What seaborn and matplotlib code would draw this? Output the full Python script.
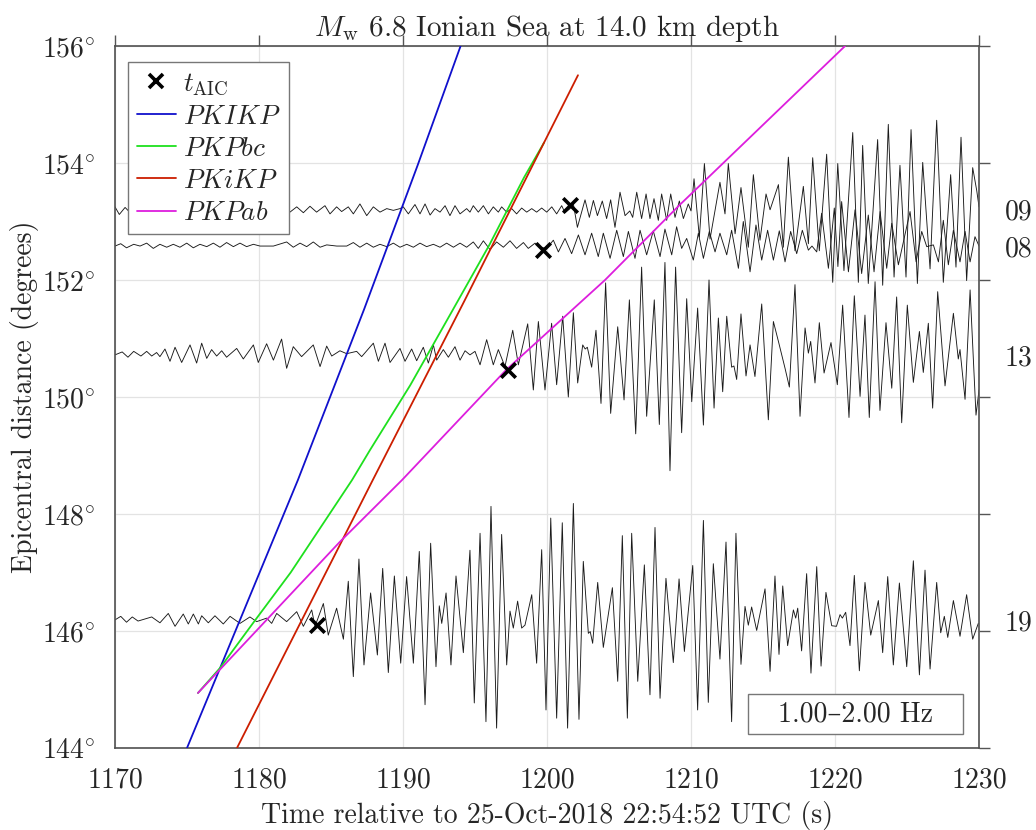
import numpy as np
import pandas as pd
import matplotlib
matplotlib.use("Agg")
import matplotlib.pyplot as plt
from matplotlib.lines import Line2D
from matplotlib.patches import Rectangle
import matplotlib.transforms as mtransforms
import seaborn as sns

sns.set_theme(style="white")
plt.rcParams["font.family"] = ["cmr10", "DejaVu Serif"]
plt.rcParams["mathtext.fontset"] = "cm"
plt.rcParams["axes.formatter.use_mathtext"] = True
plt.rcParams["axes.unicode_minus"] = False

# ---------------- data ----------------
stations = ["09", "08", "13", "19"]
baselines = [153.20, 152.58, 150.72, 146.19]
aic_time = [1201.6, 1199.70, 1197.3, 1184.0]
aic_dist = [153.28, 152.52, 150.46, 146.10]

# phase travel-time curves (time s, distance deg)
pkikp_t = [1175.0, 1182.7, 1187.3, 1191.0, 1194.0]
pkikp_d = [144.0, 148.58, 151.5, 153.95, 156.0]
pkpbc_t = [1175.76, 1177.3, 1179.75, 1182.2, 1186.46, 1187.7, 1190.5, 1193.3, 1196.0, 1198.4, 1199.8]
pkpbc_d = [144.94, 145.37, 146.19, 147.0, 148.58, 149.09, 150.2, 151.42, 152.6, 153.75, 154.35]
pkikp2_t = [1178.47, 1187.9, 1194.3, 1202.15]
pkikp2_d = [144.0, 148.58, 151.66, 155.5]
pkpab_t = [1175.76, 1185.6, 1189.93, 1197.15, 1204.03, 1209.2, 1220.7]
pkpab_d = [144.94, 147.52, 148.58, 150.46, 152.0, 153.28, 156.0]

# seismogram extrema: (time s, amplitude deg relative to trace baseline)
trace09 = [
    (1170.0, 0.05), (1170.3, -0.08), (1170.7, 0.04), (1171.1, -0.06), (1171.6, 0.05),
    (1172.1, -0.05), (1172.6, 0.06), (1173.1, -0.04), (1173.6, 0.05), (1174.1, -0.06),
    (1174.6, 0.04), (1175.1, -0.05), (1175.6, 0.06), (1176.1, -0.04), (1176.6, 0.05),
    (1177.1, -0.06), (1177.6, 0.04), (1178.1, -0.05), (1178.6, 0.05), (1179.1, -0.04),
    (1179.6, 0.06), (1180.1, -0.05), (1180.6, 0.04), (1181.1, -0.05),
    (1181.69, 0.05), (1182.15, -0.04), (1182.62, 0.05), (1183.08, -0.05), (1183.54, 0.06),
    (1184.00, -0.04), (1184.58, 0.07), (1184.93, -0.07), (1185.39, 0.05), (1185.74, -0.03),
    (1186.20, 0.05), (1186.55, -0.07), (1187.01, 0.10), (1187.48, -0.10), (1187.94, 0.05),
    (1188.40, -0.04), (1188.87, 0.02), (1189.33, -0.01), (1189.79, 0.02),
    (1190.02, 0.05), (1190.37, -0.07), (1190.83, 0.09), (1191.18, -0.07), (1191.53, 0.10),
    (1191.88, -0.09), (1192.22, 0.02), (1192.57, -0.04), (1192.92, 0.07), (1193.26, -0.10),
    (1193.61, 0.07), (1193.96, -0.07), (1194.42, 0.02), (1194.65, -0.04), (1194.88, 0.07),
    (1195.23, -0.04), (1195.58, 0.07), (1195.93, -0.07), (1196.27, 0.05), (1196.62, -0.04),
    (1196.85, 0.05), (1197.20, -0.04), (1197.55, 0.02), (1197.89, -0.07), (1198.24, 0.03),
    (1198.59, -0.04), (1198.94, 0.02), (1199.28, -0.04), (1199.63, 0.03), (1199.98, -0.04),
    (1200.33, 0.05), (1200.67, -0.07), (1201.02, 0.07), (1201.25, -0.05), (1201.60, 0.02),
    (1201.83, 0.10), (1202.11, -0.30), (1202.64, 0.17), (1202.94, -0.13), (1203.22, 0.16),
    (1203.50, -0.10), (1203.84, 0.15), (1204.14, -0.15), (1204.42, 0.17), (1204.72, -0.30),
    (1205.07, 0.30), (1205.42, -0.10), (1205.75, -0.02), (1205.95, -0.13), (1206.23, 0.30),
    (1206.57, -0.15), (1206.88, 0.27), (1207.15, -0.15), (1207.43, 0.19), (1207.73, -0.18),
    (1207.96, 0.27), (1208.31, -0.18), (1208.59, 0.27), (1208.89, -0.13), (1209.19, 0.15),
    (1209.47, -0.15), (1209.81, 0.10), (1210.00, -0.02), (1210.21, 0.53), (1210.58, -0.47),
    (1210.93, 0.79), (1211.32, -0.50), (1212.01, 0.47), (1212.36, -0.07), (1212.59, 0.79),
    (1213.06, -0.41), (1213.47, 0.38), (1213.98, -0.64), (1214.33, 0.60), (1214.79, -0.52),
    (1215.21, 0.27), (1215.49, 0.00), (1216.07, 0.43), (1216.41, -0.64), (1216.76, 0.90),
    (1217.22, -0.70), (1217.80, 0.40), (1218.15, -0.58), (1218.45, 0.89), (1218.91, -0.70),
    (1219.42, 0.95), (1219.84, -1.24), (1220.19, 0.79), (1220.62, -1.04), (1221.23, 1.32),
    (1221.62, -1.24), (1221.92, 1.10), (1222.31, -1.26), (1222.96, 1.20), (1223.31, -1.29),
    (1223.70, 1.46), (1224.10, -1.15), (1224.51, 0.76), (1224.93, -1.15), (1225.28, 1.37),
    (1225.72, -1.26), (1226.09, 0.81), (1226.60, -1.01), (1227.06, 1.53), (1227.52, -1.24),
    (1228.03, 0.60), (1228.40, -0.98), (1228.75, 1.24), (1229.14, -1.21), (1229.56, 0.72),
    (1229.84, 0.33), (1230.0, 0.05)]

trace08 = [
    (1170.0, 0.00), (1170.4, 0.04), (1170.8, -0.03), (1171.3, 0.03), (1171.74, 0.00),
    (1172.20, 0.05), (1172.66, -0.04), (1173.12, 0.03), (1173.59, -0.02), (1174.05, 0.03),
    (1174.51, -0.02), (1174.98, 0.05), (1175.44, -0.03), (1175.90, 0.03), (1176.37, -0.01),
    (1176.83, 0.05), (1177.29, -0.02), (1177.75, 0.06), (1178.22, -0.01), (1178.68, 0.05),
    (1179.14, -0.01), (1179.61, 0.03), (1180.07, 0.00), (1181.00, 0.00), (1181.92, 0.07),
    (1182.38, -0.02), (1182.85, 0.05), (1183.31, -0.01), (1183.77, 0.07), (1184.24, -0.02),
    (1184.70, 0.02), (1185.40, 0.00), (1186.09, 0.00), (1186.55, 0.06), (1187.01, -0.02),
    (1187.48, 0.05), (1187.94, -0.02), (1188.40, 0.03), (1188.87, -0.01), (1189.33, 0.05),
    (1189.79, -0.02), (1190.26, 0.03), (1190.72, -0.02), (1191.18, 0.05), (1191.64, -0.01),
    (1192.11, 0.03), (1192.57, -0.02), (1193.03, 0.05), (1193.50, -0.02), (1193.96, 0.05),
    (1194.42, -0.02), (1194.88, 0.07), (1195.23, -0.04), (1195.58, 0.09), (1196.04, -0.06),
    (1196.50, 0.07), (1196.97, -0.02), (1197.43, 0.09), (1197.89, -0.04), (1198.36, 0.06),
    (1198.70, -0.04), (1199.17, 0.05), (1199.51, -0.02),
    (1199.98, -0.04), (1200.44, 0.10), (1200.79, -0.10), (1201.25, 0.13), (1201.71, -0.13),
    (1202.18, 0.19), (1202.64, -0.15), (1203.10, 0.22), (1203.56, -0.18), (1203.91, 0.22),
    (1204.38, -0.21), (1204.84, 0.27), (1205.30, -0.18), (1205.65, 0.25), (1206.11, -0.21),
    (1206.46, 0.27), (1206.92, -0.15), (1207.38, 0.26), (1207.85, -0.18), (1208.19, 0.29),
    (1208.66, -0.15), (1209.00, 0.33), (1209.35, -0.04), (1209.70, 0.13), (1210.16, -0.24),
    (1210.51, 0.22), (1210.86, -0.21), (1211.27, 0.25), (1211.67, -0.10), (1212.01, 0.22),
    (1212.48, -0.15), (1212.82, 0.27), (1213.29, -0.38), (1213.63, 0.42), (1214.10, -0.44),
    (1214.51, 0.36), (1214.91, -0.24), (1215.32, 0.27), (1215.72, -0.24), (1216.13, 0.26),
    (1216.53, -0.27), (1216.92, 0.25), (1217.34, -0.13), (1217.73, 0.27), (1218.15, -0.07),
    (1218.40, 0.00), (1218.73, -0.10), (1219.07, 0.56), (1219.54, -0.38), (1219.95, 0.65),
    (1220.20, -0.35), (1220.46, 0.76), (1220.93, -0.44), (1221.39, 0.62), (1221.85, -0.47),
    (1222.31, 0.53), (1222.71, -0.44), (1223.13, 0.59), (1223.59, -0.38), (1223.94, 0.39),
    (1224.40, -0.32), (1225.21, 0.59), (1225.63, -0.27), (1226.02, 0.25), (1226.37, -0.01),
    (1226.83, 0.02), (1227.18, -0.27), (1227.52, 0.44), (1227.87, -0.32), (1228.22, 0.27),
    (1228.68, -0.27), (1229.03, 0.25), (1229.38, -0.27), (1229.72, 0.16), (1230.0, 0.00)]

trace13 = [
    (1170.0, 0.00), (1170.5, 0.05), (1170.9, -0.04), (1171.3, 0.06), (1171.8, -0.02),
    (1172.20, 0.06), (1172.55, -0.02), (1172.89, 0.04), (1173.12, -0.03), (1173.47, 0.10),
    (1173.82, -0.11), (1174.17, 0.13), (1174.63, -0.13), (1175.21, 0.17), (1175.67, -0.14),
    (1176.02, 0.20), (1176.37, -0.06), (1176.71, 0.09), (1177.06, -0.02), (1177.41, 0.07),
    (1177.75, -0.04), (1178.45, 0.11), (1178.91, -0.07), (1179.61, 0.17), (1179.95, -0.13),
    (1180.53, 0.19), (1181.00, -0.09), (1181.57, 0.27), (1181.92, -0.23), (1182.38, 0.14),
    (1182.96, -0.03), (1183.77, 0.17), (1184.24, -0.20), (1184.70, 0.15), (1185.05, -0.02),
    (1185.62, 0.07), (1186.09, 0.02), (1186.78, 0.06), (1187.13, -0.03), (1187.94, 0.20),
    (1188.29, -0.11), (1188.75, 0.20), (1189.10, -0.13), (1189.79, 0.11), (1190.14, -0.11),
    (1190.60, 0.10), (1190.95, -0.10), (1191.41, 0.13), (1191.76, -0.14), (1192.11, 0.17),
    (1192.34, -0.09), (1192.80, 0.09), (1193.15, -0.04), (1193.61, 0.14), (1193.96, -0.09),
    (1194.31, 0.07), (1194.65, 0.00), (1195.00, 0.06), (1195.35, -0.17), (1195.81, 0.26),
    (1196.27, -0.17), (1196.62, 0.09), (1197.08, -0.20), (1197.62, 0.42), (1198.01, -0.17),
    (1198.66, 0.53), (1199.05, -0.60), (1199.40, 0.57), (1199.86, -0.60),
    (1200.32, 0.54), (1200.67, -0.51), (1201.09, 0.66), (1201.48, -0.72), (1201.83, 0.72),
    (1202.13, -0.48), (1202.48, 0.17), (1202.65, 0.10), (1202.80, 0.13), (1203.10, -0.21),
    (1203.40, 0.42), (1203.75, -0.83), (1204.07, 1.23), (1204.42, -1.00), (1204.91, 0.48),
    (1205.35, -0.77), (1205.72, 0.94), (1206.16, -1.35), (1206.57, 1.50), (1206.92, -1.05),
    (1207.45, 0.94), (1207.80, -1.19), (1208.19, 1.58), (1208.54, -1.98), (1208.93, 1.50),
    (1209.35, -1.33), (1209.70, 0.96), (1210.05, -0.80), (1210.46, 0.80), (1210.86, -1.20),
    (1211.25, 1.28), (1211.60, -0.91), (1211.90, 0.63), (1212.20, -0.63), (1212.48, 0.66),
    (1212.82, -0.21), (1212.98, -0.19), (1213.17, -0.42), (1213.47, 0.70), (1213.82, -0.36),
    (1214.10, 0.17), (1214.44, -0.37), (1214.91, 0.87), (1215.37, -1.11), (1215.72, 0.57),
    (1216.07, 0.23), (1216.53, -0.23), (1216.83, -0.55), (1217.22, 1.20), (1217.57, -1.05),
    (1217.92, 0.46), (1218.15, 0.03), (1218.31, 0.23), (1218.61, -0.48), (1218.91, 0.55),
    (1219.24, -0.31), (1219.72, 0.21), (1220.16, -0.51), (1220.53, 0.85), (1220.97, -1.07),
    (1221.34, 1.01), (1221.74, -0.71), (1222.08, 0.68), (1222.38, -1.07), (1222.78, 1.25),
    (1223.12, -0.95), (1223.54, 0.55), (1223.94, -0.57), (1224.28, 0.99), (1224.63, -1.16),
    (1225.02, 0.85), (1225.44, -0.47), (1225.86, 0.40), (1226.13, -0.30), (1226.48, 0.54),
    (1226.78, -0.91), (1227.13, 1.08), (1227.64, -0.53), (1228.22, 0.71), (1228.56, -0.07),
    (1228.68, 0.09), (1229.03, -0.76), (1229.38, 1.11), (1229.79, -1.03), (1230.0, -0.60)]

trace19 = [
    (1170.0, 0.00), (1170.4, 0.06), (1170.8, -0.04), (1171.2, 0.05), (1171.6, -0.02),
    (1172.55, 0.05), (1173.12, -0.05), (1173.70, 0.11), (1174.17, -0.11), (1174.74, 0.10),
    (1175.09, -0.07), (1175.44, 0.10), (1175.79, -0.07), (1176.02, 0.07), (1176.48, -0.05),
    (1176.94, 0.07), (1177.52, -0.07), (1177.99, 0.06), (1178.68, -0.06), (1179.37, 0.05),
    (1179.84, -0.03), (1180.53, 0.03), (1180.88, -0.06), (1181.23, 0.11), (1181.92, -0.03),
    (1182.62, 0.14), (1183.08, -0.11), (1183.66, 0.17), (1183.89, -0.11),
    (1184.47, 0.28), (1184.81, -0.26), (1185.39, 0.20), (1185.86, -0.33), (1186.20, 0.66),
    (1186.55, -0.97), (1186.94, 1.04), (1187.29, -0.77), (1187.75, 0.46), (1188.22, -0.60),
    (1188.59, 0.88), (1188.98, -0.90), (1189.40, 0.75), (1189.84, -0.74), (1190.25, 0.74),
    (1190.72, -0.74), (1191.13, 1.17), (1191.53, -1.45), (1191.92, 1.31), (1192.29, -0.80),
    (1192.52, 0.24), (1192.69, -0.06), (1192.99, 0.46), (1193.33, -0.77), (1193.68, 0.75),
    (1194.19, -0.56), (1194.65, 1.19), (1194.95, -1.42), (1195.35, 1.48), (1195.76, -1.74),
    (1196.11, 1.94), (1196.50, -1.85), (1196.85, 1.46), (1197.20, -0.77), (1197.43, 0.15),
    (1197.66, -0.14), (1197.96, 0.32), (1198.24, -0.14), (1198.47, -0.09), (1198.94, 0.43),
    (1199.28, -0.74), (1199.63, 1.20), (1199.93, -1.54), (1200.26, 1.74), (1200.67, -1.68),
    (1201.06, 1.66), (1201.43, -1.85), (1201.83, 1.99), (1202.22, -1.70), (1202.52, 1.00),
    (1202.87, -0.23), (1203.00, -0.20), (1203.17, -0.40), (1203.52, 0.64), (1203.91, -0.47),
    (1204.54, 0.55), (1204.91, -1.05), (1205.23, 1.44), (1205.58, -1.68), (1205.88, 1.48),
    (1206.30, -1.05), (1206.76, 0.94), (1207.15, -1.28), (1207.50, 1.58), (1207.85, -1.34),
    (1208.26, 0.71), (1208.77, -0.73), (1209.17, 0.70), (1209.54, -0.54), (1210.12, 0.93),
    (1210.46, -1.54), (1210.86, 1.70), (1211.20, -1.41), (1211.55, 0.96), (1212.01, -0.67),
    (1212.43, 1.33), (1212.82, -1.74), (1213.12, 1.48), (1213.47, -0.76), (1213.75, 0.23),
    (1213.98, -0.09), (1214.21, 0.22), (1214.56, -0.18), (1215.14, 0.53), (1215.49, -0.88),
    (1215.83, 0.75), (1216.11, -0.59), (1216.37, 0.58), (1216.71, -0.44), (1217.11, 0.17),
    (1217.27, 0.03), (1217.41, 0.20), (1217.68, -0.53), (1218.03, 0.79), (1218.33, -0.91),
    (1218.73, 0.91), (1219.03, -0.79), (1219.37, 0.47), (1219.77, -0.10), (1220.10, -0.11),
    (1220.35, 0.09), (1220.51, 0.03), (1220.74, 0.13), (1221.04, -0.44), (1221.34, 0.76),
    (1221.69, -0.87), (1222.08, 0.64), (1222.48, -0.26), (1223.01, 0.33), (1223.31, -0.56),
    (1223.66, 0.74), (1224.05, -0.77), (1224.47, 0.63), (1224.98, -0.80), (1225.44, 1.01),
    (1225.86, -0.94), (1226.25, 0.85), (1226.60, -0.84), (1227.06, 0.64), (1227.34, -0.22),
    (1227.59, 0.06), (1227.83, -0.30), (1228.22, 0.33), (1228.68, -0.28), (1229.14, 0.43),
    (1229.56, -0.33), (1229.95, -0.06)]

traces = {"09": trace09, "08": trace08, "13": trace13, "19": trace19}

x_ticks = [1170, 1180, 1190, 1200, 1210, 1220, 1230]
y_ticks = [144, 146, 148, 150, 152, 154, 156]

FS = 20

# ---------------- figure ----------------
fig = plt.figure(figsize=(10.36, 8.30), dpi=100)
ax = fig.add_axes([0.1110, 0.0988, 0.8340, 0.8458])
ax.set_facecolor("white")
ax.grid(True, color="#e3e3e3", linewidth=0.9)
ax.set_axisbelow(True)

ytrans = mtransforms.blended_transform_factory(ax.transAxes, ax.transData)
for st, base in zip(stations, baselines):
    df = pd.DataFrame(traces[st], columns=["t", "amp"])
    df["d"] = df["amp"] + base
    sns.lineplot(data=df, x="t", y="d", ax=ax, color="#1a1a1a", linewidth=0.65,
                 sort=False, estimator=None, zorder=2)
    ax.text(1.030, base, st, transform=ytrans, ha="left", va="center_baseline",
            fontsize=FS, clip_on=False)

phases = [("$PKIKP$", pkikp_t, pkikp_d, "#1010cc"),
          ("$PKPbc$", pkpbc_t, pkpbc_d, "#1ee01e"),
          ("$PKiKP$", pkikp2_t, pkikp2_d, "#cc1e00"),
          ("$PKPab$", pkpab_t, pkpab_d, "#dd1edd")]
for lab, tt, dd, col in phases:
    dfp = pd.DataFrame({"t": tt, "d": dd})
    sns.lineplot(data=dfp, x="t", y="d", ax=ax, color=col, linewidth=1.3,
                 sort=False, estimator=None, zorder=3)

dfa = pd.DataFrame({"t": aic_time, "d": aic_dist})
sns.scatterplot(data=dfa, x="t", y="d", ax=ax, marker="x", s=110, color="black",
                linewidth=2.6, zorder=4)

ax.set_xlim(1170, 1230)
ax.set_ylim(144, 156)
ax.set_xticks(x_ticks)
ax.set_xticklabels([str(v) for v in x_ticks])
ax.set_yticks(y_ticks)
ax.set_yticklabels([r"$%d^{\circ}$" % v for v in y_ticks])
ax.tick_params(axis="both", which="both", direction="out", length=8, width=1.0,
               color="#555555", labelsize=FS, top=True, right=True,
               labeltop=False, labelright=False, pad=6)
for sp in ax.spines.values():
    sp.set_visible(True)
    sp.set_color("#505050")
    sp.set_linewidth(1.2)

ax.set_xlabel("Time relative to 25-Oct-2018 22:54:52 UTC (s)", fontsize=FS, labelpad=5)
ax.set_ylabel("Epicentral distance (degrees)", fontsize=FS, labelpad=2)
ax.set_title(r"$M_{\mathrm{w}}$ 6.8 Ionian Sea at 14.0 km depth", fontsize=FS + 1, pad=7)

handles = [Line2D([], [], linestyle="none", marker="x", markersize=10,
                  markeredgewidth=2.6, color="black")]
labels = [r"$t_{\mathrm{AIC}}$"]
for lab, tt, dd, col in phases:
    handles.append(Line2D([], [], color=col, linewidth=1.3))
    labels.append(lab)
leg = ax.legend(handles, labels, loc="upper left", bbox_to_anchor=(0.015, 0.977),
                borderaxespad=0, fontsize=19.5, frameon=True, fancybox=False,
                handlelength=1.45, handletextpad=0.25, labelspacing=0.3,
                borderpad=0.32, framealpha=1.0)
leg.get_frame().set_edgecolor("#777777")
leg.get_frame().set_linewidth(1.0)
leg.set_zorder(10)

ax.add_patch(Rectangle((0.7326, 0.0199), 0.2488, 0.057, transform=ax.transAxes,
                       facecolor="white", edgecolor="#777777", linewidth=1.0, zorder=6))
ax.text(0.7326 + 0.2488 / 2, 0.0199 + 0.057 / 2, "1.00–2.00 Hz", transform=ax.transAxes,
        ha="center", va="center", fontsize=FS, zorder=7)

fig.savefig("out.png", dpi=100)
